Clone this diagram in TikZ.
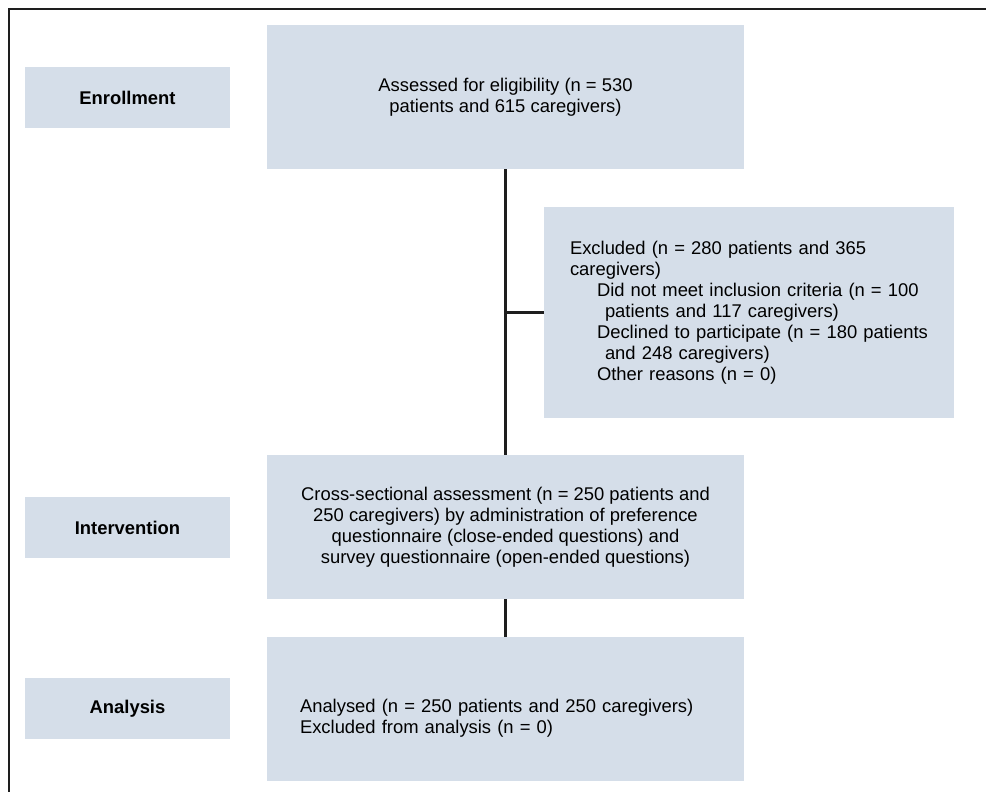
\documentclass[tikz,border=0pt]{standalone}
\usepackage{fontspec}
\setmainfont{Liberation Sans}
\usepackage{xcolor}
\definecolor{boxblue}{RGB}{213,222,233}
\definecolor{linegray}{RGB}{30,30,30}

\begin{document}
\begin{tikzpicture}[x=1pt,y=-1pt,
    every node/.style={font=\fontsize{18.4}{21}\selectfont,text=black},
    stagebox/.style={fill=boxblue,minimum width=205pt,minimum height=61pt,inner sep=0pt,font=\fontsize{18.4}{21}\selectfont\bfseries},
    flowbox/.style={fill=boxblue,minimum width=477pt,minimum height=144pt,inner sep=0pt,align=center},
    link/.style={draw=linegray,line width=3pt}]
  \useasboundingbox (0,0) rectangle (986,792);
  \clip (0,0) rectangle (986,792);
   \coordinate (Frame) at (9,9);
   \coordinate (Top) at (505.5,97);
   \coordinate (Mid) at (505.5,527);
   \coordinate (Low) at (505.5,709);
     \draw[linegray,line width=2pt] (Frame) rectangle (1010,820);
  % stage labels on the left
  \node[stagebox] (enrolment) at (127.5,97.5) {Enrollment};
  \node[stagebox] (intervention) at (127.5,527.5) {Intervention};
  \node[stagebox] (analysis) at (127.5,708.5) {Analysis};
  % flow boxes
  \node[flowbox] (assessed) at (Top) {Assessed for eligibility (n = 530\\patients and 615 caregivers)};
  \node[fill=boxblue,minimum width=410pt,minimum height=211pt,inner xsep=26pt,inner ysep=0pt,
        text width=358pt,align=left] (excluded) at (749,312.5)
   {\mbox{Excluded (n = 280 patients and 365}\\
    \mbox{caregivers)}\\
    \mbox{\hspace*{27pt}Did not meet inclusion criteria (n = 100}\\
    \mbox{\hspace*{35pt}patients and 117 caregivers)}\\
    \mbox{\hspace*{27pt}Declined to participate (n = 180 patients}\\
    \mbox{\hspace*{35pt}and 248 caregivers)}\\
    \mbox{\hspace*{27pt}Other reasons (n = 0)}};
  \node[flowbox] (crosssec) at (Mid)
   {Cross-sectional assessment (n = 250 patients and\\
    250 caregivers) by administration of preference\\
    questionnaire (close-ended questions) and\\
    survey questionnaire (open-ended questions)};
  \node[flowbox] (analysed) at (Low) {};
  \node[text width=411pt,align=left,inner sep=0pt] (analysedtext) at ([yshift=-9pt]analysed.center)
   {Analysed (n = 250 patients and 250 caregivers)\\
    Excluded from analysis (n = 0)};
  % connectors
 \draw[link] (assessed.south) -- (crosssec.north);
 \draw[link] (excluded.west) -- (excluded.west -| assessed.south);
 \draw[link] (crosssec.south) -- (analysed.north);
\end{tikzpicture}
\end{document}
